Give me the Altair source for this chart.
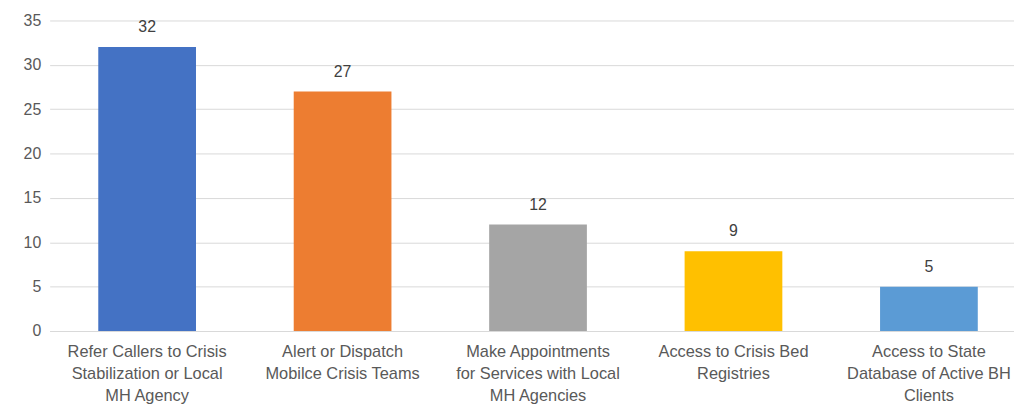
import altair as alt
import pandas as pd

categories = [
    "Refer Callers to Crisis|Stabilization or Local|MH Agency",
    "Alert or Dispatch|Mobilce Crisis Teams",
    "Make Appointments|for Services with Local|MH Agencies",
    "Access to Crisis Bed|Registries",
    "Access to State|Database of Active BH|Clients",
]
values = [32, 27, 12, 9, 5]
colors = ["#4472C4", "#ED7D31", "#A5A5A5", "#FFC000", "#5B9BD5"]

df = pd.DataFrame({"category": categories, "value": values})

x = alt.X("category:N", sort=categories, title=None,
          scale=alt.Scale(paddingInner=0.5, paddingOuter=0.217, align=0.573),
          axis=alt.Axis(labelAngle=0, labelExpr="split(datum.value, '|')",
                        labelFont="Liberation Sans", labelFontSize=16.5,
                        labelColor="#595959", labelLineHeight=22,
                        labelPadding=13, ticks=False, domainColor="#D9D9D9",
                        labelLimit=400))
y = alt.Y("value:Q", title=None,
          scale=alt.Scale(domain=[0, 35], nice=False),
          axis=alt.Axis(values=[0, 5, 10, 15, 20, 25, 30, 35], ticks=False,
                        domain=False, gridColor="#D9D9D9", labelFont="Liberation Sans",
                        labelFontSize=16, labelColor="#595959", labelPadding=9))

bars = alt.Chart(df).mark_bar().encode(
    x=x, y=y,
    color=alt.Color("category:N", sort=categories,
                    scale=alt.Scale(domain=categories, range=colors), legend=None),
)
text = alt.Chart(df).mark_text(dy=-12, baseline="bottom", font="Liberation Sans",
                               fontSize=16, color="#404040").encode(
    x=alt.X("category:N", sort=categories), y="value:Q", text="value:Q")

chart = (bars + text).properties(
    width=972, height=313,
    autosize=alt.AutoSizeParams(type="none"),
    padding={"left": 42, "top": 11, "right": 0, "bottom": 75},
).configure_view(stroke=None)

chart.save("out.html", embed_options={"renderer": "svg", "actions": False})
